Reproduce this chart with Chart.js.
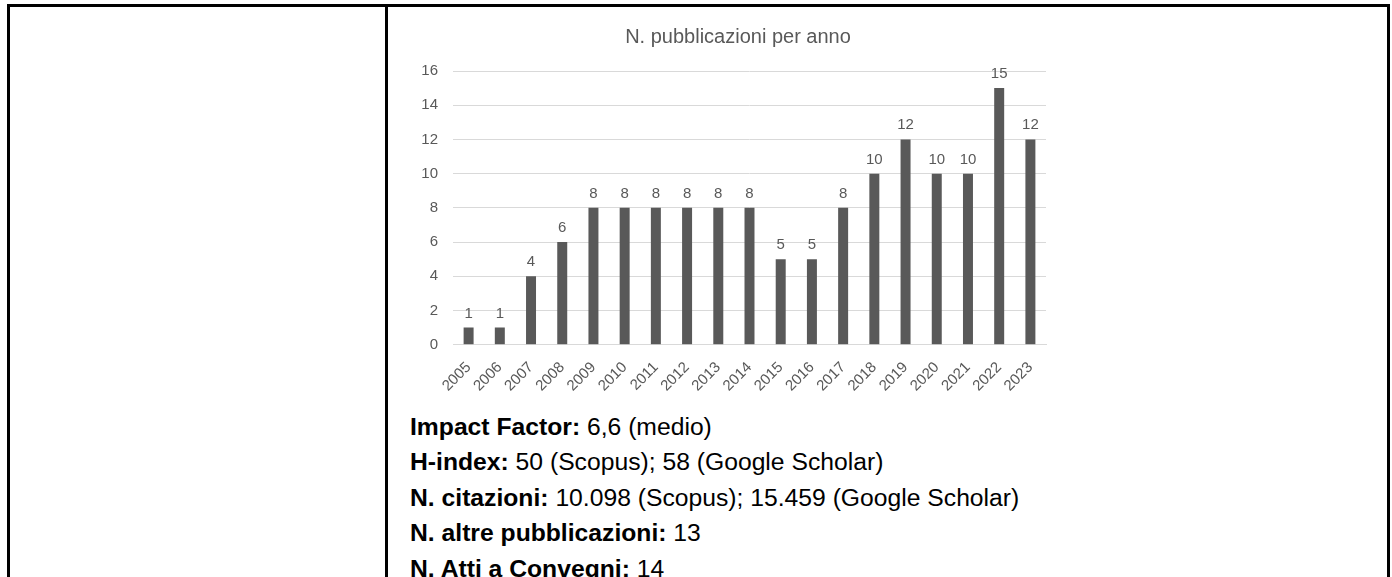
<!DOCTYPE html>
<html>
<head>
<meta charset="utf-8">
<script src="https://cdn.jsdelivr.net/npm/chart.js@4"></script>
<style>
	body { margin: 0; background: #fff; font-family: "Liberation Sans", Arial, sans-serif; overflow: hidden; }
	.box { position: absolute; left: 7px; top: 4px; width: 1377px; height: 600px; border: 3px solid #000; border-bottom: none; }
	.divider { position: absolute; left: 385px; top: 4px; width: 3px; height: 600px; background: #000; }
	.chartWrap { position: absolute; left: 395px; top: 20px; width: 668px; height: 389px; }
	.info { position: absolute; left: 410px; top: 409px; font-size: 24.7px; line-height: 35.4px; color: #000; white-space: nowrap; }
	.info b { font-weight: bold; }
</style>
</head>
<body>
<div class="box"></div>
<div class="divider"></div>
<div class="chartWrap"><canvas id="pubChart"></canvas></div>
<div class="info">
	<div><b>Impact Factor:</b> 6,6 (medio)</div>
	<div><b>H-index:</b> 50 (Scopus); 58 (Google Scholar)</div>
	<div><b>N. citazioni:</b> 10.098 (Scopus); 15.459 (Google Scholar)</div>
	<div><b>N. altre pubblicazioni:</b> 13</div>
	<div><b>N. Atti a Convegni:</b> 14</div>
</div>
<script>
	var years = ['2005', '2006', '2007', '2008', '2009', '2010', '2011', '2012', '2013', '2014',
		'2015', '2016', '2017', '2018', '2019', '2020', '2021', '2022', '2023'];
	var pubCounts = [1, 1, 4, 6, 8, 8, 8, 8, 8, 8, 5, 5, 8, 10, 12, 10, 10, 15, 12];
	var yTicks = [0, 2, 4, 6, 8, 10, 12, 14, 16];

	var textGrey = '#595959';
	var fontFamily = '"Liberation Sans", Arial, sans-serif';

	/* ================= value labels above bars ================= */
	var valueLabels = {
		id: 'valueLabels',
		afterDatasetsDraw: function(chart) {
			var ctx = chart.ctx;
			var meta = chart.getDatasetMeta(0);
			ctx.save();
			ctx.fillStyle = textGrey;
			ctx.font = '15px ' + fontFamily;
			ctx.textAlign = 'center';
			ctx.textBaseline = 'alphabetic';
			meta.data.forEach(function(bar, i) {
				ctx.fillText(pubCounts[i], bar.x, bar.y - 10);
			});
			ctx.restore();
		}
	};

	var ctx = document.getElementById('pubChart');
	var pubChart = new Chart(ctx, {
		type: 'bar',
		data: {
			labels: years,
			datasets: [{
				data: pubCounts,
				backgroundColor: '#595959',
				barPercentage: 0.64,
				categoryPercentage: 0.5
			}]
		},
		options: {
			responsive: true,
			maintainAspectRatio: false,
			animation: false,
			layout: { padding: { left: 18, right: 0, top: 0, bottom: 0 } },
			plugins: {
				legend: { display: false },
				tooltip: { enabled: false },
				title: {
					display: true,
					text: 'N. pubblicazioni per anno',
					color: textGrey,
					font: { family: fontFamily, size: 20, weight: 'normal' },
					padding: { top: 5, bottom: 22 }
				}
			},
			scales: {
				x: {
					grid: { display: false, drawTicks: false },
					border: { display: true, color: '#d9d9d9' },
					ticks: {
						color: textGrey,
						font: { family: fontFamily, size: 15 },
						maxRotation: 45,
						minRotation: 45,
						autoSkip: false,
						padding: 14
					}
				},
				y: {
					min: 0,
					max: 16,
					afterBuildTicks: function(axis) {
						axis.ticks = yTicks.map(function(v) { return { value: v }; });
					},
					afterFit: function(axis) {
						axis.width = 40;
					},
					grid: { color: '#d9d9d9', drawTicks: false },
					border: { display: false },
					ticks: {
						color: textGrey,
						font: { family: fontFamily, size: 15 },
						padding: 15
					}
				},
				// empty right-hand spacer so the title sits centred like the original
				spacer: {
					position: 'right',
					grid: { display: false, drawTicks: false },
					border: { display: false },
					ticks: { display: false },
					afterFit: function(axis) {
						axis.width = 17;
					}
				}
			}
		},
		plugins: [valueLabels]
	});
</script>
</body>
</html>
